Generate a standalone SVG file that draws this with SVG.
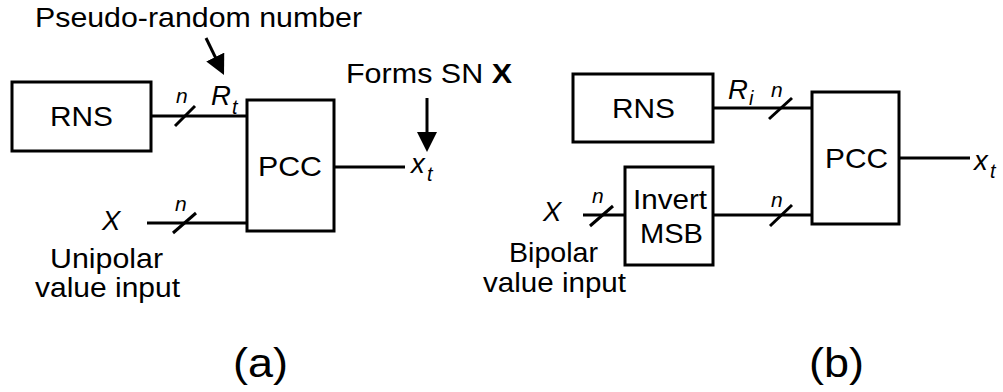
<svg xmlns="http://www.w3.org/2000/svg" width="1003" height="392" viewBox="0 0 1003 392">
<style>
text{font-family:"Liberation Sans",Arial,sans-serif;fill:#000}
.t{font-size:27.5px}
.i{font-style:italic}
.n{font-size:21px;font-style:italic}
.s{font-size:20px;font-style:italic}
.lb{font-size:40px}
.box{fill:#fff;stroke:#000;stroke-width:3}
.w{stroke:#000;stroke-width:3;fill:none}
</style>
<defs>
<marker id="ah" viewBox="0 0 20 20" refX="4" refY="10" markerWidth="20" markerHeight="20" markerUnits="userSpaceOnUse" orient="auto">
<path d="M0,0 L20,10 L0,20 z" fill="#000"/>
</marker>
</defs>
<rect width="1003" height="392" fill="#fff"/>
<g id="connectors">
<line class="w" x1="151" y1="116" x2="247" y2="116"/>
<line class="w" x1="175" y1="126" x2="195" y2="106"/>
<line class="w" x1="147" y1="223" x2="247" y2="223"/>
<line class="w" x1="173" y1="233" x2="196" y2="213"/>
<line class="w" x1="334" y1="167" x2="405" y2="167"/>
<line class="w" x1="206" y1="38" x2="217" y2="60.6" marker-end="url(#ah)"/>
<line class="w" x1="427" y1="98" x2="427" y2="136" marker-end="url(#ah)"/>
<line class="w" x1="713" y1="108" x2="812" y2="108"/>
<line class="w" x1="769" y1="119" x2="792" y2="98"/>
<line class="w" x1="583" y1="215" x2="625" y2="215"/>
<line class="w" x1="590" y1="226" x2="613" y2="206"/>
<line class="w" x1="713" y1="215" x2="812" y2="215"/>
<line class="w" x1="770" y1="226" x2="792" y2="205"/>
<line class="w" x1="899" y1="158" x2="970" y2="158"/>
</g>
<g id="rns-a"><rect class="box" x="12" y="82" width="139" height="69"/><text class="t" x="50" y="126" textLength="63" lengthAdjust="spacingAndGlyphs">RNS</text></g>
<g id="pcc-a"><rect class="box" x="247" y="100" width="87" height="131"/><text class="t" x="258" y="176" textLength="64" lengthAdjust="spacingAndGlyphs">PCC</text></g>
<g id="rns-b"><rect class="box" x="573" y="74" width="140" height="68"/><text class="t" x="612" y="118" textLength="63" lengthAdjust="spacingAndGlyphs">RNS</text></g>
<g id="invert-b"><rect class="box" x="625" y="167" width="88" height="98"/><text class="t" x="633" y="209" textLength="74" lengthAdjust="spacingAndGlyphs">Invert</text><text class="t" x="640" y="243" textLength="63" lengthAdjust="spacingAndGlyphs">MSB</text></g>
<g id="pcc-b"><rect class="box" x="812" y="92" width="87" height="132"/><text class="t" x="825" y="168" textLength="63" lengthAdjust="spacingAndGlyphs">PCC</text></g>
<g id="labels-a">
<text class="t" x="35" y="27" textLength="327" lengthAdjust="spacingAndGlyphs">Pseudo-random number</text>
<text class="t i" x="211" y="105">R</text><text class="s" x="232" y="114">t</text>
<text class="n" x="176" y="103">n</text>
<text class="t" x="346" y="83" textLength="166" lengthAdjust="spacingAndGlyphs">Forms SN <tspan font-weight="bold">X</tspan></text>
<text class="t i" x="411" y="173">x</text><text class="s" x="427" y="181">t</text>
<text class="t i" x="102" y="230">X</text>
<text class="n" x="175" y="211">n</text>
<text class="t" x="50" y="268" textLength="113" lengthAdjust="spacingAndGlyphs">Unipolar</text>
<text class="t" x="35" y="297" textLength="145" lengthAdjust="spacingAndGlyphs">value input</text>
<text class="lb" x="233" y="377" textLength="55" lengthAdjust="spacingAndGlyphs">(a)</text>
</g>
<g id="labels-b">
<text class="t i" x="728" y="99">R</text><text class="s" x="749" y="105">i</text>
<text class="n" x="771" y="97">n</text>
<text class="t i" x="974" y="170">x</text><text class="s" x="990" y="178">t</text>
<text class="t i" x="543" y="221">X</text>
<text class="n" x="592" y="203">n</text>
<text class="n" x="771" y="207">n</text>
<text class="t" x="509" y="262" textLength="89" lengthAdjust="spacingAndGlyphs">Bipolar</text>
<text class="t" x="483" y="292" textLength="143" lengthAdjust="spacingAndGlyphs">value input</text>
<text class="lb" x="809" y="377" textLength="55" lengthAdjust="spacingAndGlyphs">(b)</text>
</g>
</svg>
